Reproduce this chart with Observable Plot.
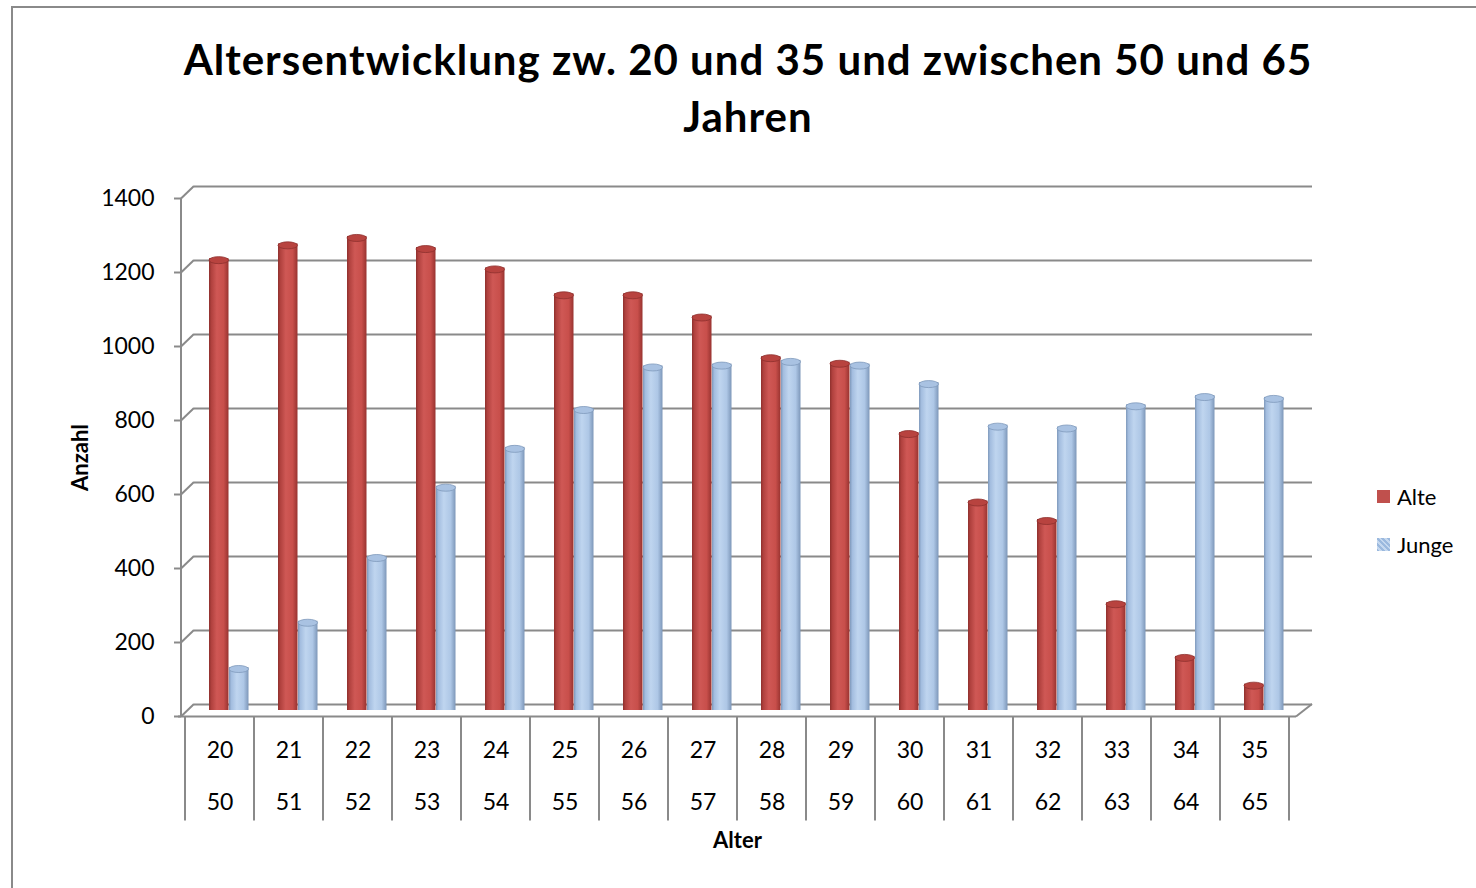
<!DOCTYPE html>
<html><head><meta charset="utf-8">
<script src="https://cdn.jsdelivr.net/npm/d3@7"></script>
<script src="https://cdn.jsdelivr.net/npm/@observablehq/plot@0.6"></script>
<style>
body{margin:0;background:#fff;font-family:Lato,"Open Sans",sans-serif;color:#000;}
#wrap{position:relative;width:1476px;height:888px;overflow:hidden;background:#fff;}
#border{position:absolute;left:11px;top:6px;width:1500px;height:920px;border:2px solid #8a8a8a;box-sizing:border-box;}
#title{position:absolute;left:0;width:1496px;top:31px;text-align:center;font-weight:bold;font-size:42px;letter-spacing:1px;line-height:57px;}
#chart{position:absolute;left:0;top:150px;}
#legend{position:absolute;left:1377px;top:472px;font-size:22px;}
#legend .item{height:48px;display:flex;align-items:center;}
#legend .sw{display:inline-block;width:13px;height:13px;margin-right:7px;}
</style></head>
<body>
<div id="wrap">
  <div id="border"></div>
  <div id="title">Altersentwicklung zw. 20 und 35 und zwischen 50 und 65<br>Jahren</div>
  <div id="chart"></div>
  <div id="legend">
    <div class="item"><span class="sw" style="background:#c0504d"></span>Alte</div>
    <div class="item"><span class="sw" style="background:repeating-linear-gradient(45deg,#9bb9de 0 2px,#c5d8ef 2px 4px)"></span>Junge</div>
  </div>
</div>
<script>
const ages    = ["20","21","22","23","24","25","26","27","28","29","30","31","32","33","34","35"];
const agesOld = ["50","51","52","53","54","55","56","57","58","59","60","61","62","63","64","65"];
const alte  = [1205,1245,1265,1235,1180,1110,1110,1050,940,925,735,550,500,275,130,55];
const junge = [100,225,400,590,695,800,915,920,930,920,870,755,750,810,835,830];
const seriesNames = ["Alte","Junge"];
const yTicks = [0,200,400,600,800,1000,1200,1400];

const alteData  = ages.map((a,i)=>({age:a, series:seriesNames[0], value:alte[i]}));
const jungeData = ages.map((a,i)=>({age:a, series:seriesNames[1], value:junge[i]}));
const labelRows = ages.map((a,i)=>({age:a, old:agesOld[i]}));

const DX = 16, DY = 12.5; // 3D depth offset (front vs back wall)
const GRID = "#8a8a8a";
const RED_INSET = [24, 25.5], BLUE_INSET = [44, 5.5];

function bandOf(x) { let bw = x.bandwidth; if (typeof bw === "function") bw = bw(); return bw; }

function decor(index, scales, values, dims) {
  const x = scales.x, y = scales.y;
  const bw = bandOf(x);
  const bottom = dims.height - dims.marginBottom;
  const left = dims.marginLeft, right = dims.width - dims.marginRight;
  const g = d3.create("svg:g").attr("stroke", GRID).attr("stroke-width", 2).attr("fill", "none");
  const ax = left + 3;
  g.append("line").attr("x1", ax).attr("x2", ax).attr("y1", y(yTicks[yTicks.length-1]) + DY).attr("y2", bottom + DY);
  for (const t of yTicks) {
    const yb = y(t);
    g.append("line").attr("x1", ax - 7).attr("x2", ax).attr("y1", yb + DY).attr("y2", yb + DY);
    g.append("line").attr("x1", ax).attr("x2", left + DX).attr("y1", yb + DY).attr("y2", yb);
  }
  g.append("line").attr("x1", left).attr("x2", right).attr("y1", bottom + DY).attr("y2", bottom + DY);
  g.append("line").attr("x1", right).attr("x2", right + DX).attr("y1", bottom + DY).attr("y2", bottom);
  const edges = ages.map(a => x(a)).concat([x(ages[ages.length-1]) + bw]);
  for (const e of edges) {
    g.append("line").attr("x1", e).attr("x2", e).attr("y1", bottom + DY).attr("y2", bottom + DY + 104);
  }
  return g.node();
}

function caps(data, inset, fill, stroke) {
  return function(index, scales, values, dims) {
    const x = scales.x, y = scales.y;
    const bw = bandOf(x);
    const g = d3.create("svg:g");
    for (const d of data) {
      const x0 = x(d.age) + inset[0], x1 = x(d.age) + bw - inset[1];
      g.append("ellipse").attr("cx", (x0 + x1) / 2).attr("cy", y(d.value) + 2).attr("rx", (x1 - x0) / 2).attr("ry", 3.5)
        .attr("fill", fill).attr("stroke", stroke).attr("stroke-width", 0.8);
    }
    return g.node();
  };
}

const plot = Plot.plot({
  width: 1476, height: 730,
  marginLeft: 178, marginRight: 180, marginTop: 36, marginBottom: 176,
  x: {type: "band", domain: ages, padding: 0, axis: null},
  y: {domain: [0, 1400], axis: null},
  style: {fontFamily: "Lato, 'Open Sans', sans-serif", fontSize: "22px", color: "#000", background: "transparent"},
  marks: [
    Plot.gridY(yTicks, {stroke: GRID, strokeOpacity: 1, strokeWidth: 2, dx: DX}),
    decor,
    Plot.axisY(yTicks, {tickSize: 0, tickPadding: 24, dy: DY, fontSize: 23, label: null, fill: "#000", tickFormat: d => String(d)}),
    Plot.barY(alteData,  {x: "age", y: "value", fill: "url(#gRed)",  insetLeft: RED_INSET[0], insetRight: RED_INSET[1], insetBottom: -6}),
    caps(alteData, RED_INSET, "#b8433f", "#8e302d"),
    Plot.barY(jungeData, {x: "age", y: "value", fill: "url(#gBlue)", insetLeft: BLUE_INSET[0], insetRight: BLUE_INSET[1], insetBottom: -6}),
    caps(jungeData, BLUE_INSET, "#a9c2e2", "#7f99bb"),
    Plot.text(ages, {x: d => d, text: d => d, frameAnchor: "bottom", dy: 53, fontSize: 23, fill: "#000"}),
    Plot.text(labelRows, {x: "age", text: "old", frameAnchor: "bottom", dy: 105, fontSize: 23, fill: "#000"}),
    Plot.text(["Alter"], {text: d => d, frameAnchor: "bottom", dy: 143, fontSize: 22, fontWeight: "bold", fill: "#000"}),
    Plot.text(["Anzahl"], {text: d => d, frameAnchor: "left", textAnchor: "middle", dx: -98, dy: 12, rotate: -90, fontSize: 22, fontWeight: "bold", fill: "#000"})
  ]
});

const defs = d3.select(plot).insert("defs", ":first-child");
const gr = defs.append("linearGradient").attr("id", "gRed").attr("x1", "0").attr("x2", "1").attr("y1", "0").attr("y2", "0");
[[0,"#8e302d"],[0.12,"#b0413e"],[0.4,"#cf5855"],[0.75,"#c84f4b"],[1,"#983330"]].forEach(([o,c]) => gr.append("stop").attr("offset", o).attr("stop-color", c));
const gb = defs.append("linearGradient").attr("id", "gBlue").attr("x1", "0").attr("x2", "1").attr("y1", "0").attr("y2", "0");
[[0,"#7f99bb"],[0.12,"#a3bddf"],[0.4,"#bfd5ef"],[0.75,"#aec7e6"],[1,"#7d97b9"]].forEach(([o,c]) => gb.append("stop").attr("offset", o).attr("stop-color", c));

document.getElementById("chart").appendChild(plot);
</script>
</body></html>
